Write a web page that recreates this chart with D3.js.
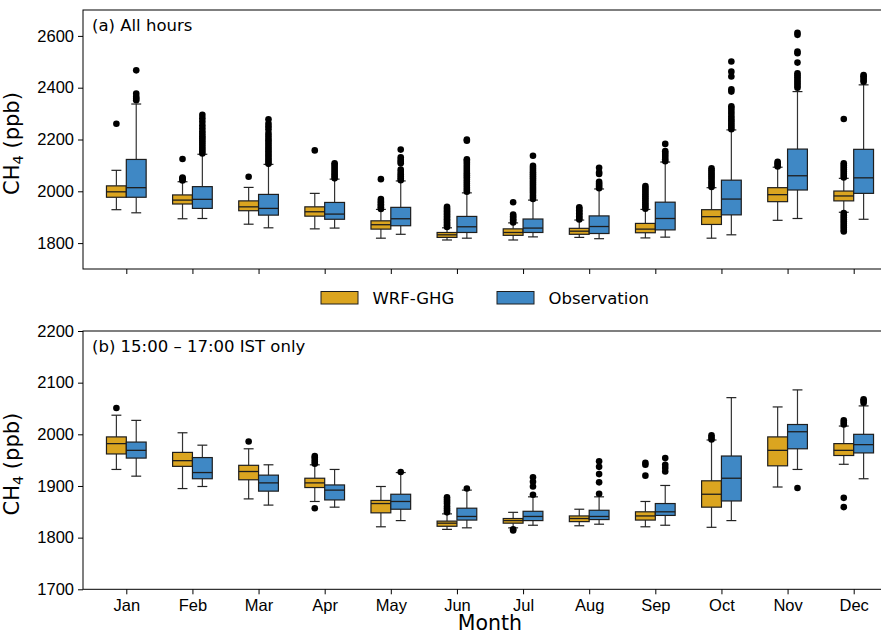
<!DOCTYPE html>
<html>
<head>
<meta charset="utf-8">
<script src="https://cdn.jsdelivr.net/npm/d3@7"></script>
<style>
  body { margin: 0; background: #fff; }
  svg { font-family: "DejaVu Sans", sans-serif; display: block; }
  .tick text { font-size: 16.5px; fill: #000; }
</style>
</head>
<body>
<div id="chart"></div>
<script>
// month categories
const months = ["Jan", "Feb", "Mar", "Apr", "May", "Jun", "Jul", "Aug", "Sep", "Oct", "Nov", "Dec"];
const seriesNames = ["WRF-GHG", "Observation"];

// box stats per month: [whisker low, q1, median, q3, whisker high]
// (a) all hours
const allWrf = [
  [1929, 1977, 1998, 2021, 2081], [1894, 1951, 1966, 1986, 2037], [1873, 1925, 1940, 1963, 2015],
  [1855, 1904, 1921, 1940, 1992], [1819, 1854, 1871, 1886, 1930], [1812, 1822, 1832, 1841, 1859],
  [1812, 1830, 1841, 1855, 1878], [1822, 1834, 1846, 1857, 1889], [1820, 1840, 1854, 1876, 1930],
  [1819, 1872, 1902, 1929, 2014], [1888, 1960, 1987, 2014, 2093], [1919, 1963, 1982, 2001, 2050]
];
const allObs = [
  [1917, 1977, 2014, 2123, 2337], [1895, 1934, 1969, 2018, 2143], [1859, 1908, 1934, 1988, 2104],
  [1858, 1892, 1912, 1957, 2047], [1834, 1867, 1894, 1938, 2040], [1819, 1841, 1863, 1903, 1994],
  [1824, 1841, 1858, 1893, 1966], [1817, 1837, 1864, 1905, 2009], [1823, 1851, 1895, 1958, 2113],
  [1832, 1909, 1970, 2043, 2237], [1895, 2005, 2060, 2163, 2385], [1892, 1992, 2052, 2162, 2411]
];
const allWrfOut = [
  [2261], [2042, 2046, 2050, 2053, 2125], [2056], [2158],
  [1932, 1938, 1944, 1950, 1957, 1963, 1970, 2047],
  [1862, 1868, 1874, 1880, 1886, 1892, 1898, 1904, 1910, 1916, 1922, 1928, 1934, 1940],
  [1880, 1886, 1892, 1898, 1904, 1910, 1958],
  [1891, 1897, 1903, 1909, 1915, 1921, 1927, 1933, 1938],
  [1933, 1941, 1949, 1957, 1965, 1973, 1981, 1989, 1997, 2005, 2013, 2020],
  [2017, 2025, 2033, 2041, 2049, 2057, 2065, 2073, 2081, 2089],
  [2096, 2102, 2108, 2114],
  [2053, 2061, 2069, 2077, 2085, 2093, 2101, 2108, 2279,
   1916, 1908, 1900, 1892, 1884, 1876, 1868, 1860, 1852, 1845]
];
const allObsOut = [
  [2352, 2358, 2365, 2377, 2467],
  [2146, 2155, 2163, 2171, 2180, 2188, 2196, 2205, 2213, 2222, 2232, 2243, 2255, 2269, 2282, 2295],
  [2106, 2114, 2122, 2130, 2138, 2146, 2155, 2163, 2171, 2180, 2188, 2197, 2206, 2215, 2225, 2240, 2251, 2262, 2278],
  [2050, 2057, 2064, 2071, 2078, 2086, 2094, 2102, 2108],
  [2043, 2050, 2058, 2066, 2075, 2084, 2108, 2115, 2122, 2131, 2161],
  [1998, 2006, 2014, 2022, 2030, 2038, 2046, 2054, 2062, 2070, 2078, 2086, 2094, 2102, 2110, 2118, 2124, 2195, 2200],
  [1970, 1978, 1986, 1994, 2002, 2010, 2018, 2026, 2034, 2042, 2050, 2058, 2066, 2074, 2082, 2090, 2098, 2137],
  [2012, 2018, 2024, 2030, 2037, 2067, 2073, 2091],
  [2116, 2124, 2132, 2140, 2148, 2155, 2183],
  [2240, 2248, 2256, 2264, 2272, 2280, 2290, 2300, 2310, 2320, 2328, 2385, 2394, 2443, 2462, 2501],
  [2400, 2408, 2416, 2424, 2432, 2440, 2448, 2456, 2497, 2533, 2540, 2604, 2612],
  [2423, 2430, 2437, 2444, 2449]
];

// (b) 15:00 - 17:00 IST only
const aftWrf = [
  [1932, 1962, 1982, 1995, 2037], [1895, 1938, 1949, 1965, 2003], [1875, 1912, 1928, 1940, 1972],
  [1870, 1897, 1906, 1915, 1941], [1821, 1848, 1866, 1872, 1899], [1816, 1822, 1828, 1832, 1846],
  [1819, 1828, 1833, 1837, 1849], [1823, 1831, 1837, 1842, 1855], [1821, 1834, 1842, 1850, 1870],
  [1820, 1859, 1884, 1910, 1989], [1898, 1939, 1969, 1995, 2053], [1942, 1959, 1969, 1982, 2016]
];
const aftObs = [
  [1919, 1954, 1969, 1985, 2027], [1899, 1914, 1926, 1955, 1979], [1863, 1890, 1906, 1921, 1941],
  [1859, 1873, 1892, 1902, 1932], [1833, 1855, 1870, 1884, 1926], [1819, 1834, 1841, 1857, 1892],
  [1824, 1833, 1841, 1851, 1879], [1826, 1835, 1841, 1853, 1879], [1824, 1843, 1850, 1866, 1901],
  [1833, 1871, 1915, 1958, 2071], [1932, 1972, 2005, 2019, 2086], [1914, 1964, 1980, 2000, 2055]
];
const aftWrfOut = [
  [2051], [], [1986], [1943, 1947, 1951, 1955, 1958, 1857], [],
  [1849, 1853, 1857, 1861, 1866, 1870, 1874, 1878], [1814, 1816], [],
  [1920, 1941, 1945], [1990, 1994, 1998], [], [2019, 2023, 2027, 1877, 1859]
];
const aftObsOut = [
  [], [], [], [], [1927], [1895], [1883, 1899, 1908, 1917],
  [1885, 1907, 1923, 1937, 1948], [1928, 1935, 1941, 1954], [], [1896], [2061, 2065, 2068]
];

const yTicksA = [1800, 2000, 2200, 2400, 2600];
const yTicksB = [1700, 1800, 1900, 2000, 2100, 2200];

const colors = ["#dba520", "#3f88c5"];

const W = 881, H = 635;
const left = 83, right = 897;

const svg = d3.select("#chart").append("svg")
  .attr("width", W)
  .attr("height", H);

svg.append("rect").attr("width", W).attr("height", H).attr("fill", "#fff");

// x scale shared by both panels (category index -> pixel)
const x = d3.scaleLinear()
  .domain([-0.655, months.length - 1 + 0.655])
  .range([left, right]);
const boxW = x(0.3) - x(0);
const offsets = [-0.15, 0.15];

function drawPanel(top, bottom, domain, yTicks, stats, outliers, label, showLabels) {
  const y = d3.scaleLinear().domain(domain).range([bottom, top]);
  const g = svg.append("g");

  // boxes
  stats.forEach(function (series, s) {
    series.forEach(function (d, i) {
      const cx = x(i + offsets[s]);
      const bg = g.append("g");
      // whiskers
      bg.append("line").attr("x1", cx).attr("x2", cx).attr("y1", y(d[0])).attr("y2", y(d[1]))
        .attr("stroke", "#333").attr("stroke-width", 1.2);
      bg.append("line").attr("x1", cx).attr("x2", cx).attr("y1", y(d[3])).attr("y2", y(d[4]))
        .attr("stroke", "#333").attr("stroke-width", 1.2);
      // caps
      [d[0], d[4]].forEach(function (v) {
        bg.append("line").attr("x1", cx - boxW / 4).attr("x2", cx + boxW / 4)
          .attr("y1", y(v)).attr("y2", y(v))
          .attr("stroke", "#222").attr("stroke-width", 1.2);
      });
      // box
      bg.append("rect")
        .attr("x", cx - boxW / 2)
        .attr("y", y(d[3]))
        .attr("width", boxW)
        .attr("height", y(d[1]) - y(d[3]))
        .attr("fill", colors[s])
        .attr("stroke", "#1e1e1e")
        .attr("stroke-width", 1.2);
      // median
      bg.append("line").attr("x1", cx - boxW / 2).attr("x2", cx + boxW / 2)
        .attr("y1", y(d[2])).attr("y2", y(d[2]))
        .attr("stroke", "#1e1e1e").attr("stroke-width", 1.3);
    });
  });

  // outliers
  outliers.forEach(function (series, s) {
    series.forEach(function (pts, i) {
      g.selectAll(null)
        .data(pts)
        .enter()
        .append("circle")
        .attr("cx", x(i + offsets[s]))
        .attr("cy", function (v) { return y(v); })
        .attr("r", 3.3)
        .attr("fill", "#000");
    });
  });

  // frame (right spine falls outside the picture)
  g.append("rect")
    .attr("x", left).attr("y", top)
    .attr("width", right - left).attr("height", bottom - top)
    .attr("fill", "none").attr("stroke", "#000").attr("stroke-width", 1);

  // y axis
  const yAxis = g.append("g")
    .attr("transform", "translate(" + left + ",0)")
    .call(d3.axisLeft(y).tickValues(yTicks).tickSize(5).tickPadding(4).tickFormat(d3.format("d")));
  yAxis.select(".domain").remove();
  yAxis.selectAll(".tick line").attr("stroke", "#000");

  // x axis
  const xAxis = g.append("g")
    .attr("transform", "translate(0," + bottom + ")")
    .call(d3.axisBottom(x).tickValues(d3.range(months.length)).tickSize(5).tickPadding(4)
      .tickFormat(function (i) { return showLabels ? months[i] : ""; }));
  xAxis.select(".domain").remove();
  xAxis.selectAll(".tick line").attr("stroke", "#000");
  xAxis.selectAll(".tick text").attr("dy", "0.8em");

  // y label
  const yl = g.append("text")
    .attr("transform", "translate(18.5," + ((top + bottom) / 2 + 4) + ") rotate(-90)")
    .attr("text-anchor", "middle")
    .attr("font-size", "21px")
    .attr("fill", "#000");
  yl.append("tspan").text("CH");
  yl.append("tspan").attr("font-size", "14.5px").attr("dy", "4").text("4");
  yl.append("tspan").attr("dy", "-4").text(" (ppb)");

  // panel label
  g.append("text")
    .attr("x", 92)
    .attr("y", top + 20.5)
    .attr("font-size", "16.5px")
    .attr("fill", "#000")
    .text(label);
}

drawPanel(10, 269, [1700, 2700], yTicksA, [allWrf, allObs], [allWrfOut, allObsOut], "(a) All hours", false);
drawPanel(331, 589.3, [1700, 2200], yTicksB, [aftWrf, aftObs], [aftWrfOut, aftObsOut], "(b) 15:00 \u2013 17:00 IST only", true);

// x axis title
svg.append("text")
  .attr("x", (left + right) / 2)
  .attr("y", 630)
  .attr("text-anchor", "middle")
  .attr("font-size", "20.5px")
  .attr("fill", "#000")
  .text("Month");

// legend
const legendX = [321, 497];
const legend = svg.append("g");
seriesNames.forEach(function (name, s) {
  legend.append("rect")
    .attr("x", legendX[s]).attr("y", 291.5)
    .attr("width", 37).attr("height", 12.5)
    .attr("fill", colors[s])
    .attr("stroke", "#1e1e1e").attr("stroke-width", 1);
  legend.append("text")
    .attr("x", legendX[s] + 51.5)
    .attr("y", 304)
    .attr("font-size", "16.5px")
    .attr("fill", "#000")
    .text(name);
});
</script>
</body>
</html>
